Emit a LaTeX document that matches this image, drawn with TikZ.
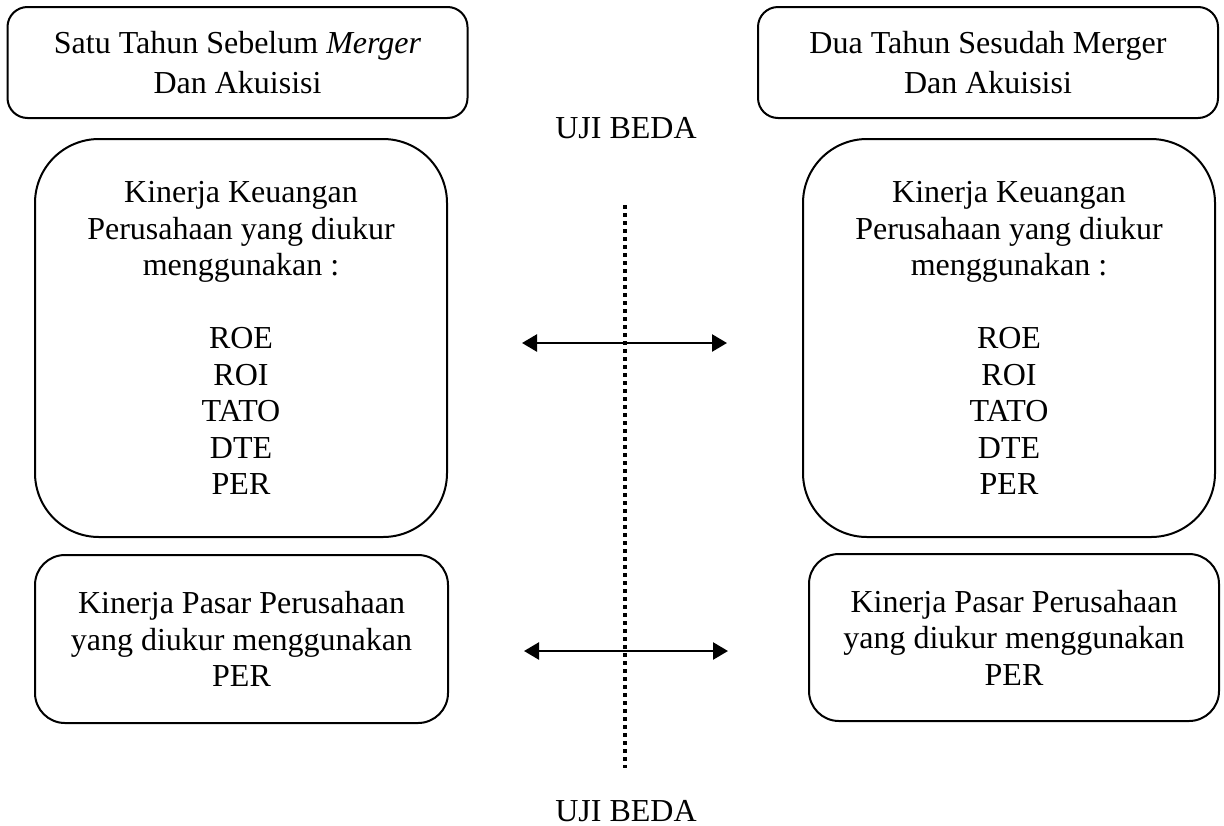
\documentclass[tikz,border=0pt]{standalone}
\usepackage{fontspec}
\setmainfont{Liberation Serif}
\usetikzlibrary{arrows.meta}
\begin{document}
\begin{tikzpicture}[x=0.5pt,y=-0.5pt,
  box/.style={draw,line width=1pt,align=center,inner sep=0pt,
    font=\fontsize{16}{18.25}\selectfont},
  topbox/.style={box,rounded corners=10pt,minimum width=230pt,minimum height=55.5pt,
    font=\fontsize{16}{20}\selectfont},
  bigbox/.style={box,rounded corners=32pt,minimum width=206pt,minimum height=199pt},
  lowbox/.style={box,rounded corners=15pt,minimum height=84pt},
  lbl/.style={font=\fontsize{16}{18}\selectfont,inner sep=0pt,anchor=base},
  dbl/.style={line width=1.25pt,{Triangle[length=7.5pt,width=8.5pt]}-{Triangle[length=7.5pt,width=8.5pt]}},
  dots/.style={line width=1.75pt,dash pattern=on 1.75pt off 2.25pt}]
\useasboundingbox (0,0) rectangle (1224,825);
\node[topbox] (tl) at (237.5,62.5) {Satu Tahun Sebelum \textit{Merger}\\Dan Akuisisi};
\node[topbox] (tr) at (988,62.5) {Dua Tahun Sesudah Merger\\Dan Akuisisi};
\node[lbl] (uj1) at (626,138) {UJI BEDA};
\node[lbl] (uj2) at (626,821) {UJI BEDA};
\node[bigbox] (ml) at (241,338) {Kinerja Keuangan\\Perusahaan yang diukur\\menggunakan :\\[18.25pt]ROE\\ROI\\TATO\\DTE\\PER};
\node[bigbox] (mr) at (1009,338) {Kinerja Keuangan\\Perusahaan yang diukur\\menggunakan :\\[18.25pt]ROE\\ROI\\TATO\\DTE\\PER};
\node[lowbox,minimum width=206.5pt] (bl) at (241.5,639) {Kinerja Pasar Perusahaan\\yang diukur menggunakan\\PER};
\node[lowbox,minimum width=205pt,minimum height=83.5pt] (br) at (1014,637.5) {Kinerja Pasar Perusahaan\\yang diukur menggunakan\\PER};
\coordinate (d1) at (625,205);
\coordinate (d2) at (625,768);
\draw[dots] (d1) -- (d2);
\coordinate (a1l) at (522,343);
\coordinate (a1r) at (727,343);
\coordinate (a2l) at (524,651);
\coordinate (a2r) at (728,651);
\draw[dbl] (a1l) -- (a1r);
\draw[dbl] (a2l) -- (a2r);
\end{tikzpicture}
\end{document}
